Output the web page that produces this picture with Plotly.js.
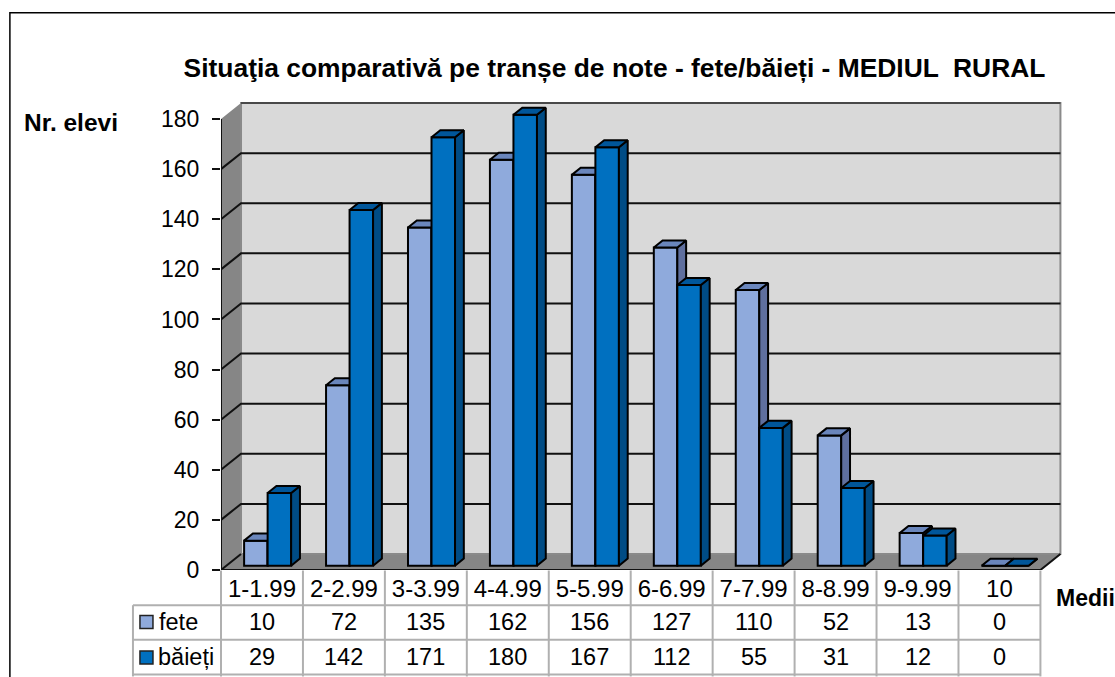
<!DOCTYPE html>
<html><head><meta charset="utf-8">
<script src="https://cdn.plot.ly/plotly-3.0.1.min.js"></script>
<style>html,body{margin:0;padding:0;background:#fff;overflow:hidden}#c{width:1115px;height:677px}</style>
</head><body><div id="c"></div>
<script>
const categories = ["1-1.99","2-2.99","3-3.99","4-4.99","5-5.99","6-6.99","7-7.99","8-8.99","9-9.99","10"];
const fete = [10,72,135,162,156,127,110,52,13,0];
const baieti = [29,142,171,180,167,112,55,31,12,0];
const yTicks = [0,20,40,60,80,100,120,140,160,180];
const titleText = "Situaţia comparativă pe tranșe de note - fete/băieți - MEDIUL  RURAL";

const W=1115,H=677,L=221,CAT=81.9,UNIT=2.506,Y0=570.5;
const XMAX=9.8,YMAX=188;
const R=L+(XMAX+0.5)*CAT, T=Y0-YMAX*UNIT;
const DX=20/CAT, DY=16/UNIT;          // full floor depth in axis units
const F0=0.27, F1=0.71;               // bar depth start / end as floor fraction
const BW=0.287, OF=-0.0745, OB=0.2125;
const font="Liberation Sans, Arial, sans-serif";
const px=x=>(x-L)/(R-L), py=y=>(Y0-y)/(Y0-T);

function faces(vals,off){
  const base=F0*DY, ddx=(F1-F0)*DX, ddy=(F1-F0)*DY;
  const s={x:[],y:[]}, t={x:[],y:[]};
  vals.forEach((v,i)=>{
    const xl=i+off-BW/2, xr=i+off+BW/2, tv=base+v;
    s.x.push(xr,xr+ddx,xr+ddx,xr,xr,null); s.y.push(base,base+ddy,tv+ddy,tv,base,null);
    t.x.push(xl,xr,xr+ddx,xl+ddx,xl,null); t.y.push(tv,tv,tv+ddy,tv+ddy,tv,null);
  });
  return {s,t};
}
function series(name,vals,off,cFront,cSide,cTop,xa,ya){
  const f=faces(vals,off), line={color:'#000',width:2};
  const poly=(d,c)=>({type:'scatter',mode:'lines',x:d.x,y:d.y,fill:'toself',fillcolor:c,line,xaxis:xa,yaxis:ya,hoverinfo:'skip',showlegend:false,cliponaxis:false});
  return [
    {type:'bar',name,x:vals.map((_,i)=>i+off),y:vals,base:vals.map(()=>F0*DY),width:BW,
     marker:{color:cFront,line:{color:'#000',width:2}},xaxis:xa,yaxis:ya,showlegend:false},
    poly(f.s,cSide),poly(f.t,cTop)
  ];
}
const polyPath=(pts)=>'M'+pts.map(p=>p[0]+' '+p[1]).join(' L')+' Z';
const n=categories.length, xa=-0.5, xb=n-0.5, yTop=yTicks[yTicks.length-1];
const shapes=[
  {type:'path',layer:'below',xref:'x',yref:'y',path:polyPath([[xa,0],[xa,yTop],[xa+DX,yTop+DY],[xa+DX,DY]]),fillcolor:'#868686',line:{width:0}},
  {type:'path',layer:'below',xref:'x',yref:'y',path:polyPath([[xa,0],[xb,0],[xb+DX,DY],[xa+DX,DY]]),fillcolor:'#868686',line:{width:0}},
  {type:'path',layer:'below',xref:'x',yref:'y',path:polyPath([[xa+DX,DY],[xb+DX,DY],[xb+DX,yTop+DY],[xa+DX,yTop+DY]]),fillcolor:'#D9D9D9',line:{color:'#8a8a8a',width:2}}
];
yTicks.forEach(v=>{
  const path=v===0
    ? `M${xa} 0 L${xa+DX} ${DY}`
    : v===yTop
    ? `M${xa+DX} ${v+DY} L${xb+DX} ${v+DY}`
    : `M${xa} ${v} L${xa+DX} ${v+DY} L${xb+DX} ${v+DY}`;
  shapes.push({type:'path',layer:'below',xref:'x',yref:'y',path,line:{color:v===yTop?'#333':'#111',width:v===yTop?1.5:2}});
});
// frame of the picture
shapes.push({type:'path',xref:'paper',yref:'paper',path:`M${px(10)} ${py(700)} L${px(10)} ${py(13)} L${px(1130)} ${py(13)}`,line:{color:'#000',width:1.5}});
// data table
const GR='#b0b0b0', rows=[605.7,640.2,675];
rows.forEach(y=>shapes.push({type:'line',xref:'paper',yref:'paper',x0:px(133),x1:px(L+n*CAT),y0:py(y),y1:py(y),line:{color:GR,width:2}}));
shapes.push({type:'line',xref:'paper',yref:'paper',x0:px(133),x1:px(133),y0:py(605.7),y1:py(677),line:{color:GR,width:2}});
for(let i=0;i<=n;i++) shapes.push({type:'line',xref:'paper',yref:'paper',x0:px(L+i*CAT),x1:px(L+i*CAT),y0:py(571),y1:py(677),line:{color:GR,width:2}});
const keys=[['#8FAADC',622.5],['#0070C0',658]];
keys.forEach(k=>shapes.push({type:'rect',xref:'paper',yref:'paper',x0:px(140),x1:px(153),y0:py(k[1]-6.5),y1:py(k[1]+6.5),fillcolor:k[0],line:{color:'#222',width:1.5}}));

const ann=[];
const txt=(x,y,text,opt={})=>ann.push(Object.assign({xref:'paper',yref:'paper',x:px(x),y:py(y),text,showarrow:false,xanchor:'center',yanchor:'middle',font:{family:font,size:23.5,color:'#000'}},opt));
fete.forEach((v,i)=>txt(L+(i+.5)*CAT,622.5,String(v)));
baieti.forEach((v,i)=>txt(L+(i+.5)*CAT,658,String(v)));
txt(157,622.5,'fete',{xanchor:'left'});
txt(156,658,'băieți',{xanchor:'left'});
txt(22,122.5,'<b>Nr. elevi</b>',{xanchor:'left',font:{family:font,size:24.5,color:'#000'}});
txt(1054,599,'<b>Medii</b>',{xanchor:'left',font:{family:font,size:23,color:'#000'}});

const axisLines={type:'scatter',mode:'lines',x:[xa,xa,null,xa,xb,xb+DX],y:[yTop,0,null,0,0,DY],line:{color:'#111',width:2},hoverinfo:'skip',showlegend:false,cliponaxis:false};
const data=[
  ...series('fete',fete,OF,'#8FAADC','#5F6F9E','#6A86BC','x','y'),
  axisLines,
  ...series('băieți',baieti,OB,'#0070C0','#004C85','#00569A','x2','y2')
];
Plotly.newPlot('c',data,{
  width:W,height:H,paper_bgcolor:'#fff',plot_bgcolor:'rgba(0,0,0,0)',
  margin:{l:L,r:W-R,t:T,b:H-Y0,pad:0,autoexpand:false},
  barmode:'overlay',showlegend:false,
  title:{text:'<b>'+titleText+'</b>',font:{family:font,size:26.4,color:'#000'},x:(183+1046)/2/W,xanchor:'center',y:1-68/H,yanchor:'middle'},
  xaxis:{range:[xa,XMAX],tickvals:categories.map((_,i)=>i),ticktext:categories,ticks:'',ticklabelstandoff:2,showgrid:false,zeroline:false,showline:false,tickfont:{family:font,size:24,color:'#000'},tickangle:0},
  yaxis:{range:[0,YMAX],tickvals:yTicks,ticks:'outside',ticklen:8,tickwidth:2,tickcolor:'#111',ticklabelstandoff:8,showgrid:false,zeroline:false,showline:false,tickfont:{family:font,size:23,color:'#000'}},
  xaxis2:{range:[xa,XMAX],overlaying:'x',visible:false,anchor:'y2'},
  yaxis2:{range:[0,YMAX],overlaying:'y',visible:false,anchor:'x2'},
  shapes,annotations:ann
},{displayModeBar:false,staticPlot:true});
</script></body></html>
